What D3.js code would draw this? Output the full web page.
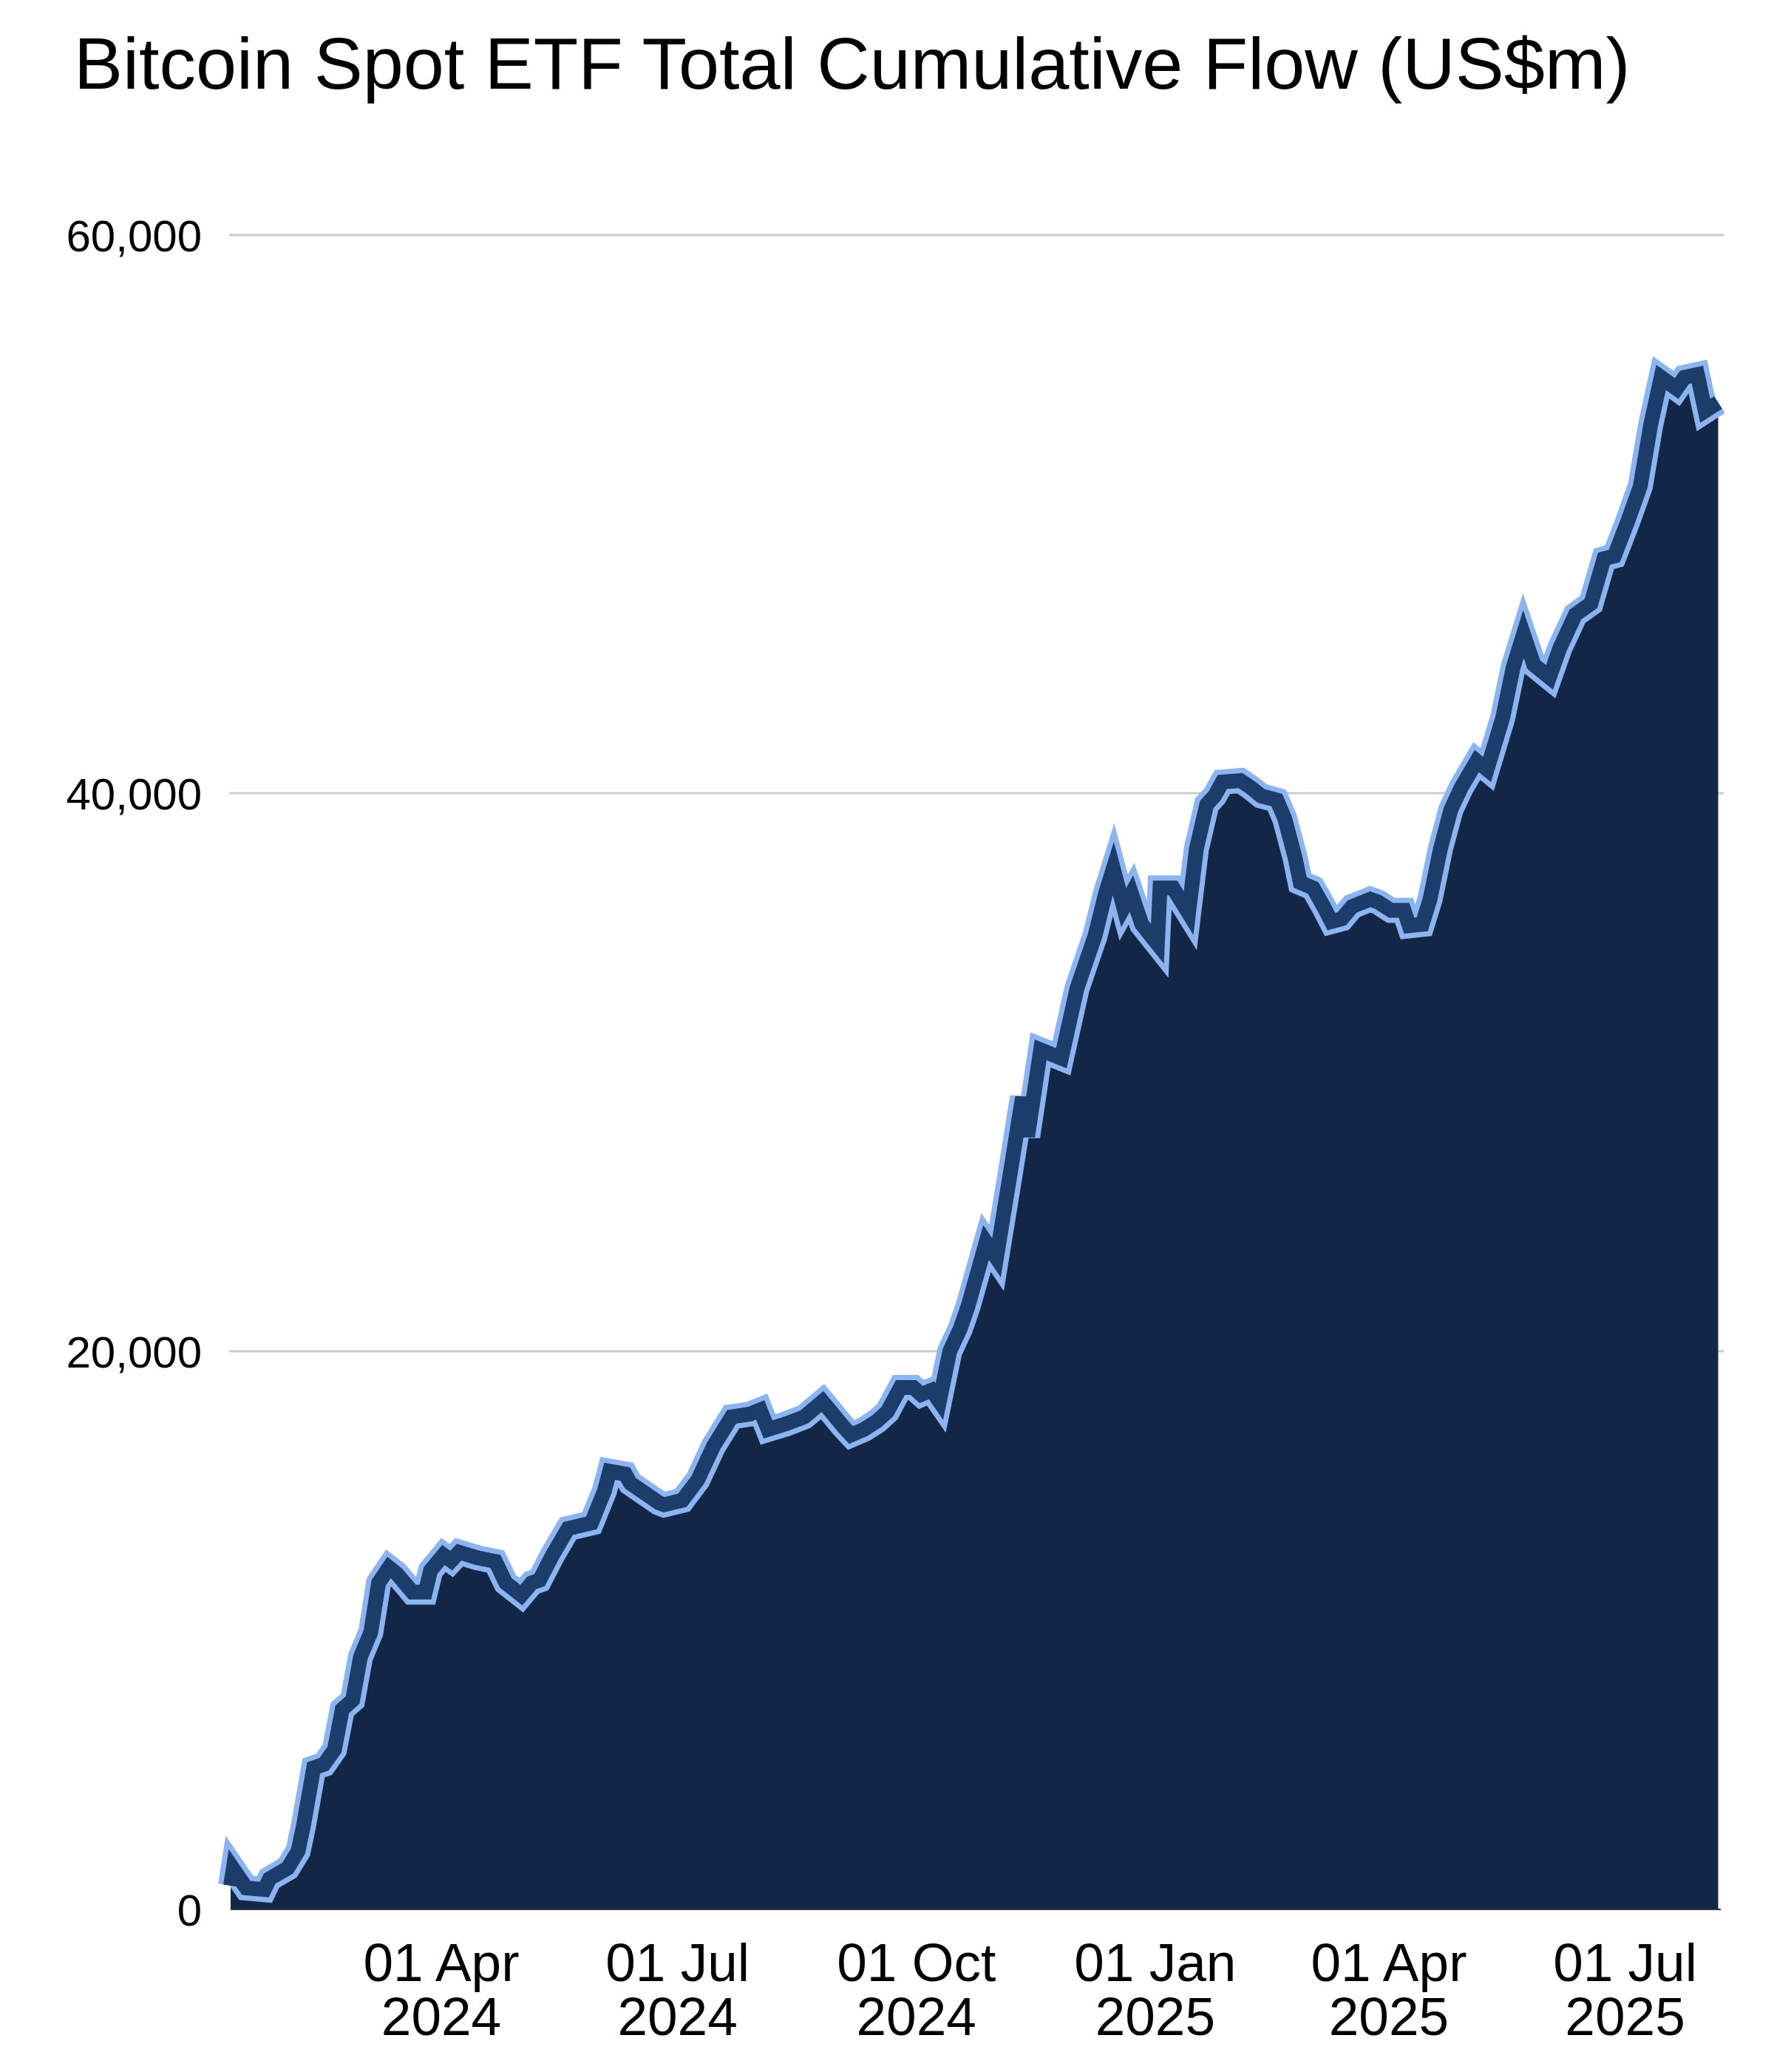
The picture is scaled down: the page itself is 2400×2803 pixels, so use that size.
<!DOCTYPE html>
<html>
<head>
<meta charset="utf-8">
<script src="https://cdn.jsdelivr.net/npm/d3@7"></script>
<style>
  body { margin: 0; background: #fff; }
  svg { display: block; font-family: "Liberation Sans", Arial, Helvetica, sans-serif; }
</style>
</head>
<body>
<svg width="2400" height="2803"></svg>
<script>
// cumulative net flow, US$m
var dates = [
  "2024-01-11","2024-01-12","2024-01-17","2024-01-24","2024-01-26","2024-02-02","2024-02-06","2024-02-08",
  "2024-02-12","2024-02-16","2024-02-20","2024-02-23","2024-02-27","2024-03-01","2024-03-05","2024-03-08",
  "2024-03-12","2024-03-15","2024-03-21","2024-03-26","2024-03-28","2024-04-02","2024-04-05","2024-04-08",
  "2024-04-15","2024-04-22","2024-04-26","2024-05-02","2024-05-06","2024-05-09","2024-05-14","2024-05-20",
  "2024-05-29","2024-06-03","2024-06-05","2024-06-11","2024-06-13","2024-06-24","2024-06-26","2024-07-03",
  "2024-07-09","2024-07-15","2024-07-22","2024-07-29","2024-08-02","2024-08-05","2024-08-12","2024-08-19",
  "2024-08-26","2024-09-03","2024-09-06","2024-09-11","2024-09-16","2024-09-20","2024-09-25","2024-09-30",
  "2024-10-03","2024-10-07","2024-10-10","2024-10-14","2024-10-18","2024-10-21","2024-10-28","2024-11-01",
  "2024-11-06","2024-11-11","2024-11-13","2024-11-18","2024-11-26","2024-12-02","2024-12-09","2024-12-13",
  "2024-12-16","2024-12-20","2024-12-23","2024-12-27","2025-01-02","2025-01-03","2025-01-08","2025-01-14",
  "2025-01-17","2025-01-21","2025-01-24","2025-01-27","2025-02-03","2025-02-07","2025-02-11","2025-02-17",
  "2025-02-20","2025-02-24","2025-02-26","2025-03-03","2025-03-07","2025-03-10","2025-03-14","2025-03-18",
  "2025-03-25","2025-03-28","2025-04-02","2025-04-07","2025-04-09","2025-04-14","2025-04-17","2025-04-21",
  "2025-04-25","2025-04-29","2025-05-05","2025-05-09","2025-05-15","2025-05-19","2025-05-23","2025-05-27",
  "2025-06-02","2025-06-06","2025-06-12","2025-06-18","2025-06-23","2025-06-27","2025-07-02","2025-07-07",
  "2025-07-11","2025-07-15","2025-07-21","2025-07-24","2025-07-29","2025-08-01","2025-08-06"
];
var flows = [
  850, 1450, 770, 710, 1100, 1480, 2090, 2970,
  5070, 5200, 5730, 7170, 7500, 9040, 9930, 11700,
  12250, 12030, 11370, 11370, 12140, 12700, 12500, 12800,
  12600, 12470, 11700, 11260, 11700, 11800, 12700, 13650,
  13850, 15000, 15700, 15600, 15270, 14570, 14500, 14660,
  15400, 16600, 17650, 17750, 17900, 17200, 17400, 17650,
  18200, 17300, 17000, 17200, 17500, 17840, 18700, 18700,
  18450, 18600, 18200, 20000, 20800, 21600, 23900, 23350,
  26200, 29100, 27700, 30800, 30500, 33000, 34900, 36400,
  37300, 35900, 36400, 35300, 34600, 36600, 36600, 35700,
  38000, 39600, 39900, 40400, 40450, 40200, 39900, 39750,
  39100, 37700, 36800, 36600, 35940, 35400, 35500, 35940,
  36200, 36100, 35800, 35800, 35250, 35300, 36200, 38000,
  39400, 40200, 41150, 40850, 42700, 44500, 45700, 44600,
  44150, 45200, 46400, 46800, 48400, 48500, 49700, 51000,
  53200, 54900, 54500, 54900, 55000, 53700, 54000
];
var yTicks = [0, 20000, 40000, 60000];
var xTicks = ["2024-04-01", "2024-07-01", "2024-10-01", "2025-01-01", "2025-04-01", "2025-07-01"];
var title = "Bitcoin Spot ETF Total Cumulative Flow (US$m)";

function draw() {
  var parse = d3.timeParse("%Y-%m-%d");
  var data = dates.map((d, i) => ({date: parse(d), value: flows[i]}));

  var svg = d3.select("svg");
  var plotLeft = 312, plotRight = 2328, plotTop = 318, plotBottom = 2583;

  var x = d3.scaleTime()
      .domain([parse("2024-01-11"), parse("2025-08-07")])
      .range([plotLeft, plotRight]);
  var y = d3.scaleLinear()
      .domain([0, 60000])
      .range([plotBottom, plotTop]);

  svg.append("rect").attr("width", 2400).attr("height", 2803).attr("fill", "#fff");

  svg.append("text")
      .attr("x", 100)
      .attr("y", 120)
      .attr("font-size", 99)
      .attr("fill", "#000")
      .text(title);

  // gridlines sit behind the area
  svg.append("g")
    .selectAll("line")
    .data(yTicks.slice(1))
    .enter().append("line")
      .attr("x1", 310)
      .attr("x2", 2332)
      .attr("y1", d => y(d))
      .attr("y2", d => y(d))
      .attr("stroke", "#cccccc")
      .attr("stroke-width", 3);

  var area = d3.area()
      .x(d => x(d.date))
      .y0(y(0))
      .y1(d => y(d.value));
  var line = d3.line()
      .x(d => x(d.date))
      .y(d => y(d.value));

  svg.append("path")
      .datum(data)
      .attr("d", area)
      .attr("fill", "#132646");

  svg.append("path")
      .datum(data)
      .attr("d", line)
      .attr("fill", "none")
      .attr("stroke", "#8cb4f0")
      .attr("stroke-width", 34)
      .attr("stroke-linejoin", "miter");

  svg.append("path")
      .datum(data)
      .attr("d", line)
      .attr("fill", "none")
      .attr("stroke", "#1c3c69")
      .attr("stroke-width", 20)
      .attr("stroke-linejoin", "miter");

  svg.append("line")
      .attr("x1", plotLeft).attr("x2", plotRight)
      .attr("y1", plotBottom).attr("y2", plotBottom)
      .attr("stroke", "#2a2f3a")
      .attr("stroke-width", 2);

  var yAxis = svg.append("g")
      .attr("transform", "translate(273,0)")
      .call(d3.axisLeft(y).tickValues(yTicks).tickFormat(d3.format(",")).tickSize(0).tickPadding(0));
  yAxis.select(".domain").remove();
  yAxis.selectAll("text")
      .attr("font-size", 60)
      .attr("font-family", "'Liberation Sans', Arial, sans-serif")
      .attr("fill", "#000")
      .attr("dy", "0.36em");

  var fmtDay = d3.timeFormat("%d %b");
  var fmtYear = d3.timeFormat("%Y");
  var xAxis = svg.append("g")
      .attr("transform", "translate(0," + plotBottom + ")")
      .call(d3.axisBottom(x).tickValues(xTicks.map(parse)).tickSize(0).tickFormat(""));
  xAxis.select(".domain").remove();
  xAxis.selectAll(".tick").each(function(d) {
    var t = d3.select(this).append("text")
        .attr("font-size", 73)
        .attr("font-family", "'Liberation Sans', Arial, sans-serif")
        .attr("fill", "#000")
        .attr("text-anchor", "middle");
    t.append("tspan").attr("x", 0).attr("y", 97).text(fmtDay(d));
    t.append("tspan").attr("x", 0).attr("y", 170).text(fmtYear(d));
  });
}

draw();
</script>
</body>
</html>
